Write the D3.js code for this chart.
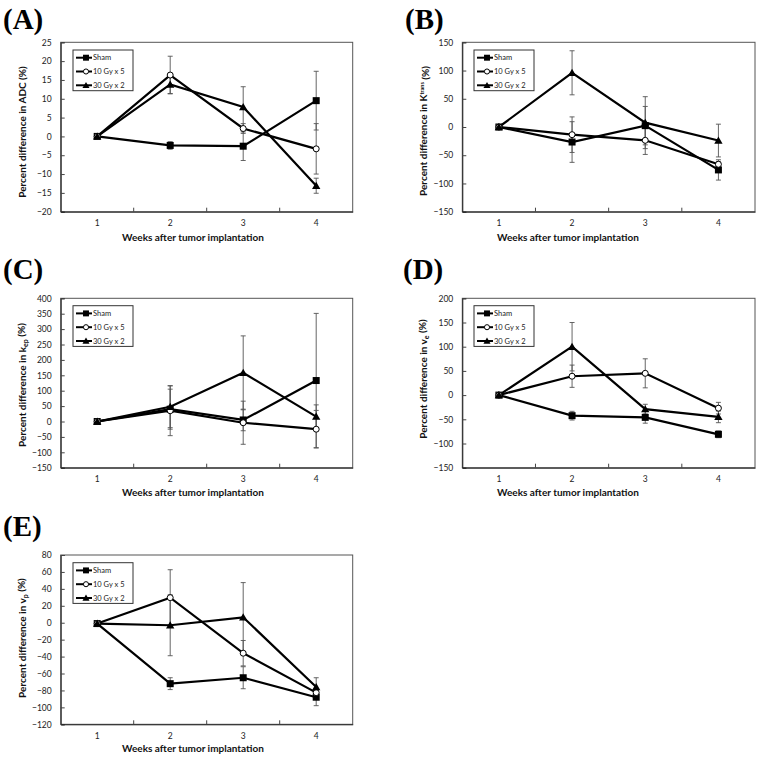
<!DOCTYPE html>
<html><head><meta charset="utf-8">
<script src="https://cdn.jsdelivr.net/npm/d3@7"></script>
<style>body{margin:0;background:#fff}svg{display:block}</style>
</head><body>
<script>
// ---------- DATA ----------
const weeks = ["1", "2", "3", "4"];
const seriesNames = ["Sham", "10 Gy x 5", "30 Gy x 2"];

// Panel A: ADC
const adcSham = [0, -2.4, -2.6, 9.5];
const adcSham_err = [0, 1.0, 3.8, 7.8];
const adc10 = [0, 16.3, 2.1, -3.3];
const adc10_err = [0, 5.0, 1.3, 6.7];
const adc30 = [0, 13.8, 7.8, -13.1];
const adc30_err = [0, 2.4, 5.4, 2.0];
const adcTicks = [-20, -15, -10, -5, 0, 5, 10, 15, 20, 25];

// Panel B: Ktrans
const ktSham = [0, -26.6, 2.4, -76];
const ktSham_err = [0, 36, 34, 18];
const kt10 = [0, -13.6, -23.6, -66];
const kt10_err = [0, 31.5, 25, 5];
const kt30 = [0, 96, 7.7, -24];
const kt30_err = [0, 39, 46, 29];
const ktTicks = [-150, -100, -50, 0, 50, 100, 150];

// Panel C: kep
const kepSham = [0, 40, 5, 133];
const kepSham_err = [0, 65, 35, 218];
const kep10 = [0, 35, -4, -25];
const kep10_err = [0, 81, 70, 61];
const kep30 = [0, 48, 158, 16];
const kep30_err = [0, 68, 120, 38];
const kepTicks = [-150, -100, -50, 0, 50, 100, 150, 200, 250, 300, 350, 400];

// Panel D: ve
const veSham = [0, -42.5, -46, -81];
const veSham_err = [0, 9, 12, 7];
const ve10 = [0, 39, 45, -27];
const ve10_err = [0, 23, 30, 12];
const ve30 = [0, 100, -29, -45];
const ve30_err = [0, 50, 10, 12];
const veTicks = [-150, -100, -50, 0, 50, 100, 150, 200];

// Panel E: vp
const vpSham = [-1, -72, -65, -88];
const vpSham_err = [0, 7, 13, 10];
const vp10 = [-1, 29.6, -36, -82.6];
const vp10_err = [0, 33, 15, 3];
const vp30 = [-1, -3, 6.4, -76];
const vp30_err = [0, 36, 41, 11];
const vpTicks = [-120, -100, -80, -60, -40, -20, 0, 20, 40, 60, 80];

const xTitle = "Weeks after tumor implantation";

// ---------- LAYOUT ----------
const panels = [
  {label:"(A)", lx:3, ly:29, x0:60.7, x1:352.7, y0:42.3, y1:211.7, ticks:adcTicks,
   series:[[adcSham,adcSham_err],[adc10,adc10_err],[adc30,adc30_err]],
   ytitle:"ADC", ytx:22, yty:132, xtx:193, xty:241, leg:[73,50]},
  {label:"(B)", lx:405, ly:29, x0:462.3, x1:755, y0:42.3, y1:211.7, ticks:ktTicks,
   series:[[ktSham,ktSham_err],[kt10,kt10_err],[kt30,kt30_err]],
   ytitle:"K", ytx:423, yty:131, xtx:568, xty:241, leg:[474,50]},
  {label:"(C)", lx:3, ly:279, x0:60.7, x1:352.7, y0:298.3, y1:467.7, ticks:kepTicks,
   series:[[kepSham,kepSham_err],[kep10,kep10_err],[kep30,kep30_err]],
   ytitle:"kep", ytx:22, yty:385, xtx:193, xty:496, leg:[73,305.7]},
  {label:"(D)", lx:403, ly:279, x0:462.3, x1:755, y0:298.3, y1:467.7, ticks:veTicks,
   series:[[veSham,veSham_err],[ve10,ve10_err],[ve30,ve30_err]],
   ytitle:"ve", ytx:423, yty:379, xtx:568, xty:496, leg:[474,305.7]},
  {label:"(E)", lx:3, ly:536, x0:60.7, x1:352.7, y0:555, y1:724.3, ticks:vpTicks,
   series:[[vpSham,vpSham_err],[vp10,vp10_err],[vp30,vp30_err]],
   ytitle:"vp", ytx:22, yty:638, xtx:193, xty:752, leg:[73,562.7]}
];

const W = 758, H = 758;
const svg = d3.select("body").append("svg").attr("width", W).attr("height", H);
const font = "Lato, 'Open Sans', sans-serif";

function marker(g, type, x, y, s) {
  s = s || 1;
  if (type === 0) {
    g.append("rect").attr("x", x-3.5*s).attr("y", y-3.5*s).attr("width", 7*s).attr("height", 7*s).attr("fill", "#000");
  } else if (type === 1) {
    g.append("circle").attr("cx", x).attr("cy", y).attr("r", 3*s).attr("fill", "#fff").attr("stroke", "#000").attr("stroke-width", 1);
  } else {
    g.append("path").attr("d", d3.symbol(d3.symbolTriangle, 30*s*s)()).attr("transform", `translate(${x},${y+0.8*s})`).attr("fill", "#000");
  }
}

panels.forEach(p => {
  const g = svg.append("g");
  g.append("text").attr("x", p.lx).attr("y", p.ly).text(p.label)
    .attr("font-family", "'Liberation Serif', 'Times New Roman', serif").attr("font-weight", "bold").attr("font-size", 29);

  const ext = d3.extent(p.ticks);
  const y = d3.scaleLinear().domain(ext).range([p.y1, p.y0]);
  const xb = d3.scaleBand().domain(weeks).range([p.x0, p.x1]);
  const xc = d => xb(d) + xb.bandwidth()/2;

  g.append("rect").attr("x", p.x0).attr("y", p.y0).attr("width", p.x1-p.x0).attr("height", p.y1-p.y0)
    .attr("fill", "none").attr("stroke", "#555").attr("stroke-width", 1);

  const ya = d3.axisRight(y).tickValues(p.ticks).tickSize(4).tickFormat(d3.format("d"));
  const yg = g.append("g").attr("transform", `translate(${p.x0},0)`).call(ya);
  yg.select(".domain").attr("stroke", "#222");
  yg.selectAll(".tick line").attr("stroke", "#444");
  yg.selectAll(".tick text").attr("x", -9).attr("text-anchor", "end")
    .attr("font-family", font).attr("font-size", 8.5).attr("fill", "#222");

  const xa = d3.axisTop(xb).tickSize(0).tickSizeOuter(0);
  const xg = g.append("g").attr("transform", `translate(0,${p.y1})`).call(xa);
  xg.select(".domain").attr("stroke", "#222");
  xg.selectAll(".tick text").attr("y", 11.8).attr("dy", "0.35em")
    .attr("font-family", font).attr("font-size", 8.5).attr("fill", "#222");
  weeks.slice(1).forEach(w => {
    g.append("line").attr("x1", xb(w)).attr("x2", xb(w)).attr("y1", p.y1).attr("y2", p.y1-4).attr("stroke", "#444");
  });

  p.series.forEach(([vals, errs]) => {
    vals.forEach((v, i) => {
      const e = errs[i];
      if (!e) return;
      const cx = xc(weeks[i]);
      const eg = g.append("g").attr("stroke", "#555").attr("stroke-width", 0.9);
      eg.append("line").attr("x1", cx).attr("x2", cx).attr("y1", y(v-e)).attr("y2", y(v+e));
      [v-e, v+e].forEach(t => eg.append("line").attr("x1", cx-2.5).attr("x2", cx+2.5).attr("y1", y(t)).attr("y2", y(t)));
    });
  });

  const line = d3.line().x((d, i) => xc(weeks[i])).y(d => y(d));
  p.series.forEach(([vals]) => {
    g.append("path").attr("d", line(vals)).attr("fill", "none").attr("stroke", "#000").attr("stroke-width", 2.2);
  });
  p.series.forEach(([vals], si) => {
    vals.forEach((v, i) => marker(g, si, xc(weeks[i]), y(v)));
  });

  const [lx, ly] = p.leg;
  const lg = g.append("g");
  lg.append("rect").attr("x", lx).attr("y", ly).attr("width", 60).attr("height", 40.7)
    .attr("fill", "#fff").attr("stroke", "#333").attr("stroke-width", 1);
  seriesNames.forEach((n, i) => {
    const yy = ly + 7.7 + i * 13.8;
    lg.append("line").attr("x1", lx+3).attr("x2", lx+19).attr("y1", yy).attr("y2", yy).attr("stroke", "#000").attr("stroke-width", 2);
    marker(lg, i, lx+13, yy, 0.85);
    lg.append("text").attr("x", lx+20).attr("y", yy).attr("dy", "0.35em").text(n)
      .attr("font-family", font).attr("font-size", 7.5).attr("fill", "#222");
  });

  g.append("text").attr("x", p.xtx).attr("y", p.xty).attr("text-anchor", "middle").text(xTitle)
    .attr("font-family", font).attr("font-weight", "bold").attr("font-size", 10).attr("fill", "#111");

  const yt = g.append("text").attr("transform", `translate(${p.ytx},${p.yty}) rotate(-90)`).attr("text-anchor", "middle")
    .attr("dy", "0.35em").attr("font-family", font).attr("font-weight", "bold").attr("font-size", 10).attr("fill", "#111");
  if (p.ytitle === "K") {
    yt.append("tspan").text("Percent difference in K");
    yt.append("tspan").attr("dy", "-0.45em").attr("font-size", 5.5).text("trans");
    yt.append("tspan").attr("dy", "0.45em").text(" (%)");
  } else if (p.ytitle === "ADC") {
    yt.text("Percent difference in ADC (%)");
  } else {
    const base = p.ytitle === "kep" ? "k" : "v";
    const sub = p.ytitle === "kep" ? "ep" : p.ytitle.slice(1);
    yt.append("tspan").text("Percent difference in " + base);
    yt.append("tspan").attr("dy", "0.3em").attr("font-size", 7).text(sub);
    yt.append("tspan").attr("dy", "-0.3em").text(" (%)");
  }
});
</script>
</body></html>
